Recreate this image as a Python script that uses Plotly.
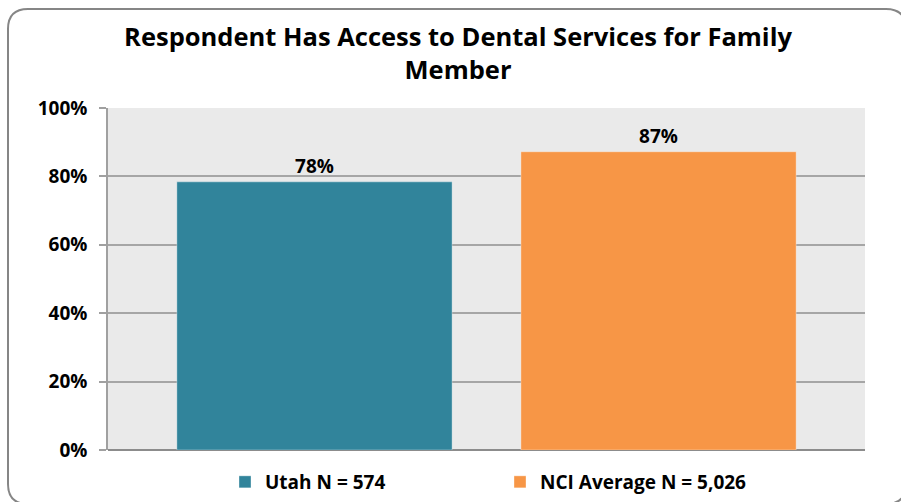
import plotly.graph_objects as go

# ---- data ----
series_names = ["Utah N = 574", "NCI Average N = 5,026"]
series_values = [78.4, 87.2]
series_labels = ["78%", "87%"]
series_colors = ["#31849B", "#F79646"]
category = [""]
y_ticks = [0, 20, 40, 60, 80, 100]
y_tick_labels = ["0%", "20%", "40%", "60%", "80%", "100%"]
title_text = "Respondent Has Access to Dental Services for Family<br>Member"

W, H = 901, 502
L, R, T, B = 108, 36, 108, 52
PW, PH = W - L - R, H - T - B

def px2paper(X, Y):
    return (X - L) / PW, (H - B - Y) / PH

FONT = "Open Sans"

fig = go.Figure()
for name, val, lab, col in zip(series_names, series_values, series_labels, series_colors):
    fig.add_trace(go.Bar(
        x=category, y=[val], name=name, marker_color=col,
        marker_line=dict(color="rgba(255,255,255,0.35)", width=1),
        text=[lab], textposition="outside", cliponaxis=False,
        textfont=dict(family=FONT, size=19, color="#000000", weight="bold"),
    ))

# rounded border frame
x0, y0, x1, y1, r = 8, 9, 906, 504, 20
def P(X, Y):
    a, b = px2paper(X, Y)
    return f"{a:.5f},{b:.5f}"
path = (f"M {P(x0+r,y0)} L {P(x1-r,y0)} Q {P(x1,y0)} {P(x1,y0+r)} "
        f"L {P(x1,y1-r)} Q {P(x1,y1)} {P(x1-r,y1)} L {P(x0+r,y1)} "
        f"Q {P(x0,y1)} {P(x0,y1-r)} L {P(x0,y0+r)} Q {P(x0,y0)} {P(x0+r,y0)} Z")

fig.update_layout(
    width=W, height=H, autosize=False,
    margin=dict(l=L, r=R, t=T, b=B, autoexpand=False),
    paper_bgcolor="white", plot_bgcolor="#EAEAEA",
    barmode="group", bargap=0.091, bargroupgap=0.20,
    title=dict(text=title_text, x=458 / W, xanchor="center", y=1 - 46 / H, yanchor="middle",
               font=dict(family=FONT, size=25.5, color="#000000", weight="bold")),
    showlegend=True,
    legend=dict(orientation="h", x=px2paper(500, 0)[0], xanchor="center",
                y=px2paper(0, 482)[1], yanchor="middle",
                font=dict(family=FONT, size=19, color="#000000", weight="bold"),
                entrywidth=230, entrywidthmode="pixels", itemwidth=30),
    xaxis=dict(showticklabels=False, ticks="", showgrid=False, zeroline=False,
               showline=False, fixedrange=True, automargin=False),
    yaxis=dict(range=[0, 100], tickvals=y_ticks, ticktext=y_tick_labels,
               ticks="outside", ticklen=7, tickcolor="#A0A0A0", tickwidth=1.5,
               ticklabelstandoff=8, fixedrange=True, automargin=False,
               showgrid=True, gridcolor="#A6A6A6", gridwidth=1.5,
               showline=True, linecolor="#A0A0A0", linewidth=1.5,
               zeroline=True, zerolinecolor="#8C8C8C", zerolinewidth=2,
               tickfont=dict(family=FONT, size=19, color="#000000", weight="bold")),
    shapes=[dict(type="path", xref="paper", yref="paper", path=path,
                 line=dict(color="#868686", width=2), fillcolor="rgba(0,0,0,0)", layer="above")],
)

fig.write_html("out.html", config={"displayModeBar": False, "responsive": False},
               post_script="document.body.style.margin='0';")
